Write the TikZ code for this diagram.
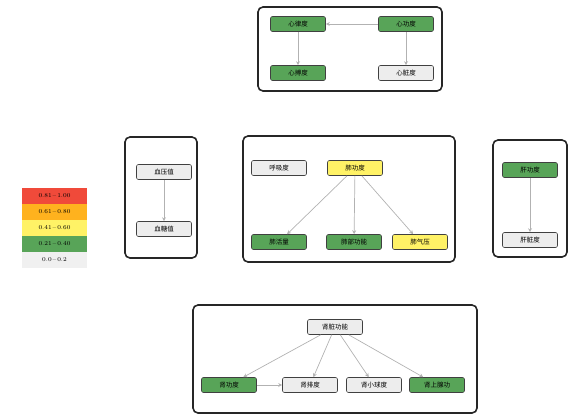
\documentclass[tikz,border=0pt]{standalone}
\usepackage{fontspec}
\newfontfamily\cjk{Noto Sans CJK SC}
\usetikzlibrary{arrows.meta}
\definecolor{gn}{HTML}{58A458}
\definecolor{yl}{HTML}{FFF266}
\definecolor{gy}{HTML}{EDEDED}
\definecolor{rd}{HTML}{F04A3A}
\definecolor{og}{HTML}{FFB21E}
\definecolor{lg}{HTML}{F0F0F0}
\tikzset{
  grp/.style={draw=black!85, line width=1.6pt, rounded corners=5pt},
  nd/.style={draw=black!75, line width=0.6pt, rounded corners=2pt, minimum width=55pt, minimum height=15pt, inner sep=1pt, font=\cjk\fontsize{6.5}{7}\selectfont},
  ng/.style={nd, fill=gn},
  ny/.style={nd, fill=yl},
  nw/.style={nd, fill=gy},
  ed/.style={draw=black!30, line width=0.7pt, -{Stealth[length=4pt,width=4pt]}},
  lgd/.style={minimum width=65pt, minimum height=16pt, inner sep=0pt, font=\fontsize{6}{7}\selectfont}
}
\begin{document}
\begin{tikzpicture}[x=1pt,y=-1pt]
\useasboundingbox (0,0) rectangle (572,418);
% group boxes
\draw[grp] (258,7) rectangle (442,91);
\draw[grp] (125,137) rectangle (197,258);
\draw[grp] (243,136) rectangle (455,262);
\draw[grp] (493,140) rectangle (567,257);
\draw[grp] (193,305) rectangle (477,413);
% top group
\node[ng] (t1) at (298,24) {心律度};
\node[ng] (t2) at (406,24) {心功度};
\node[ng] (t3) at (298,73) {心搏度};
\node[nw] (t4) at (406,73) {心脏度};
\draw[ed] (t2) -- (t1);
\draw[ed] (t1) -- (t3);
\draw[ed] (t2) -- (t4);
% left group
\node[nw] (l1) at (164,172) {血压值};
\node[nw] (l2) at (164,229) {血糖值};
\draw[ed] (l1) -- (l2);
% center group
\node[nw] (c0) at (279,168) {呼吸度};
\node[ny] (c1) at (355,168) {肺功度};
\node[ng] (c2) at (279,242) {肺活量};
\node[ng] (c3) at (354,242) {肺部功能};
\node[ny] (c4) at (420,242) {肺气压};
\draw[ed] (c1) -- (c2);
\draw[ed] (c1) -- (c3);
\draw[ed] (c1) -- (c4);
% right group
\node[ng] (r1) at (530,170) {肝功度};
\node[nw] (r2) at (530,240) {肝脏度};
\draw[ed] (r1) -- (r2);
% bottom group
\node[nw] (b0) at (335,327) {肾脏功能};
\node[ng] (b1) at (229,385) {肾功度};
\node[nw] (b2) at (310,385) {肾排度};
\node[nw] (b3) at (374,385) {肾小球度};
\node[ng] (b4) at (437,385) {肾上腺功};
\draw[ed] (b0) -- (b1);
\draw[ed] (b0) -- (b2);
\draw[ed] (b0) -- (b3);
\draw[ed] (b0) -- (b4);
\draw[ed] (b1) -- (b2);
% legend
\node[lgd, fill=rd] (g1) at (54.5,196) {0.81\,--\,1.00};
\node[lgd, fill=og] (g2) at (54.5,212) {0.61\,--\,0.80};
\node[lgd, fill=yl] (g3) at (54.5,228) {0.41\,--\,0.60};
\node[lgd, fill=gn] (g4) at (54.5,244) {0.21\,--\,0.40};
\node[lgd, fill=lg] (g5) at (54.5,260) {0.0\,--\,0.2};
\end{tikzpicture}
\end{document}
